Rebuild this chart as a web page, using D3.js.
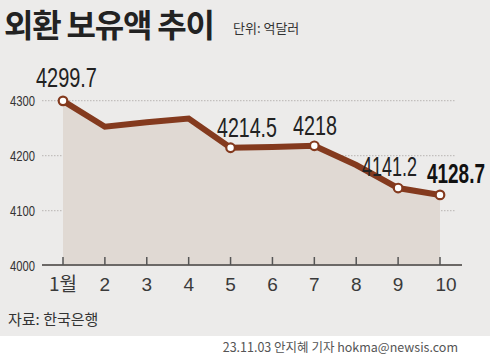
<!DOCTYPE html>
<html><head><meta charset="utf-8">
<script src="https://cdn.jsdelivr.net/npm/d3@7"></script>
<style>body{margin:0;background:#fff}svg{display:block}</style>
</head><body>
<svg id="c" width="490" height="356"></svg>
<script>
const months = ["1월","2","3","4","5","6","7","8","9","10"];
const values = [4299.7, 4252.6, 4260.7, 4267.5, 4214.5, 4216.0, 4218.0, 4183.0, 4141.2, 4128.7];
const yTicks = [4000, 4100, 4200, 4300];
const labelIdx = [0, 4, 6, 8, 9];
const labelText = ["4299.7", "4214.5", "4218", "4141.2", "4128.7"];

const svg = d3.select("#c");
const font = "'Liberation Sans', Arial, sans-serif";
const kfont = "'Noto Sans CJK KR', sans-serif";

// helper: draw text condensed horizontally to a target width
function squeeze(sel, w) {
  sel.each(function(d, i) {
    const t = d3.select(this).select("text");
    const nat = t.node().getComputedTextLength();
    const tw = typeof w === "function" ? w(d, i) : w;
    const [tx, ty] = d3.select(this).datum().__pos || [0, 0];
    t.attr("transform", `scale(${tw / nat},1)`);
  });
}

svg.append("rect").attr("x",0).attr("y",0).attr("width",490).attr("height",336).attr("fill","#ecebea");

const x = d3.scalePoint().domain(months).range([63, 440]);
const y = d3.scaleLinear().domain([4000, 4300]).range([265.7, 100.7]);

// title
svg.append("text").attr("x",4).attr("y",37).attr("font-family",kfont).attr("font-weight",700)
  .attr("font-size",32).attr("letter-spacing",-1.2)
  .attr("fill","#222").text("외환 보유액 추이");
svg.append("text").attr("x",233).attr("y",33).attr("font-family",kfont)
  .attr("font-size",13).attr("fill","#333").text("단위: 억달러");

// grid
svg.append("g").selectAll("line").data(yTicks.filter(d=>d>4000)).join("line")
  .attr("x1",42).attr("x2",455).attr("y1",d=>y(d)).attr("y2",d=>y(d))
  .attr("stroke","#b8b6b3").attr("stroke-width",1).attr("stroke-dasharray","1.5,1.5");

// y labels (condensed)
const yl = svg.append("g").selectAll("g").data(yTicks).join("g")
  .attr("transform", d => `translate(10,${y(d)+5})`);
yl.append("text").attr("font-family",font).attr("font-size",15).attr("fill","#333").text(d=>d);
squeeze(yl, 25);

// area
const area = d3.area().x((d,i)=>x(months[i])).y0(y(4000)).y1(d=>y(d));
svg.append("path").datum(values).attr("d",area).attr("fill","#e0d9d3");

// axis
svg.append("line").attr("x1",42).attr("x2",462).attr("y1",265).attr("y2",265)
  .attr("stroke","#6b6866").attr("stroke-width",2);
svg.append("g").selectAll("line").data(months).join("line")
  .attr("x1",d=>x(d)).attr("x2",d=>x(d)).attr("y1",257).attr("y2",265)
  .attr("stroke","#555").attr("stroke-width",1.5);
svg.append("g").selectAll("text").data(months).join("text")
  .attr("x",(d,i)=>x(d)+(i===9?6:0)).attr("y",291).attr("text-anchor","middle")
  .attr("font-family",(d,i)=>i===0?kfont:font).attr("font-size",19).attr("fill","#3a3a3a")
  .text(d=>d);

// line
const line = d3.line().x((d,i)=>x(months[i])).y(d=>y(d));
svg.append("path").datum(values).attr("d",line).attr("fill","none")
  .attr("stroke","#843a1e").attr("stroke-width",6).attr("stroke-linejoin","miter");

// markers
svg.append("g").selectAll("circle").data(labelIdx).join("circle")
  .attr("cx",i=>x(months[i])).attr("cy",i=>y(values[i])).attr("r",4.3)
  .attr("fill","#fff").attr("stroke","#843a1e").attr("stroke-width",2.2);

// value labels (condensed)
const lpos = [
  {x:36, y:87, w:61, bold:false},
  {x:217, y:137, w:60, bold:false},
  {x:293, y:135, w:44, bold:false},
  {x:362, y:176, w:55, bold:false},
  {x:427, y:183, w:58, bold:true}
];
const vl = svg.append("g").selectAll("g").data(labelText).join("g")
  .attr("transform",(d,i)=>`translate(${lpos[i].x},${lpos[i].y})`);
vl.append("text").attr("font-family",font).attr("font-size",27)
  .attr("font-weight",(d,i)=>lpos[i].bold?700:400)
  .attr("fill",(d,i)=>lpos[i].bold?"#111":"#222").text(d=>d);
squeeze(vl, (d,i)=>lpos[i].w);

// source & credit
svg.append("text").attr("x",8).attr("y",325).attr("font-family",kfont)
  .attr("font-size",15).attr("fill","#333").text("자료: 한국은행");
svg.append("text").attr("x",458).attr("y",352).attr("text-anchor","end").attr("font-family",kfont)
  .attr("font-size",12.5).attr("fill","#555").text("23.11.03 안지혜 기자 hokma@newsis.com");
</script>
</body></html>
